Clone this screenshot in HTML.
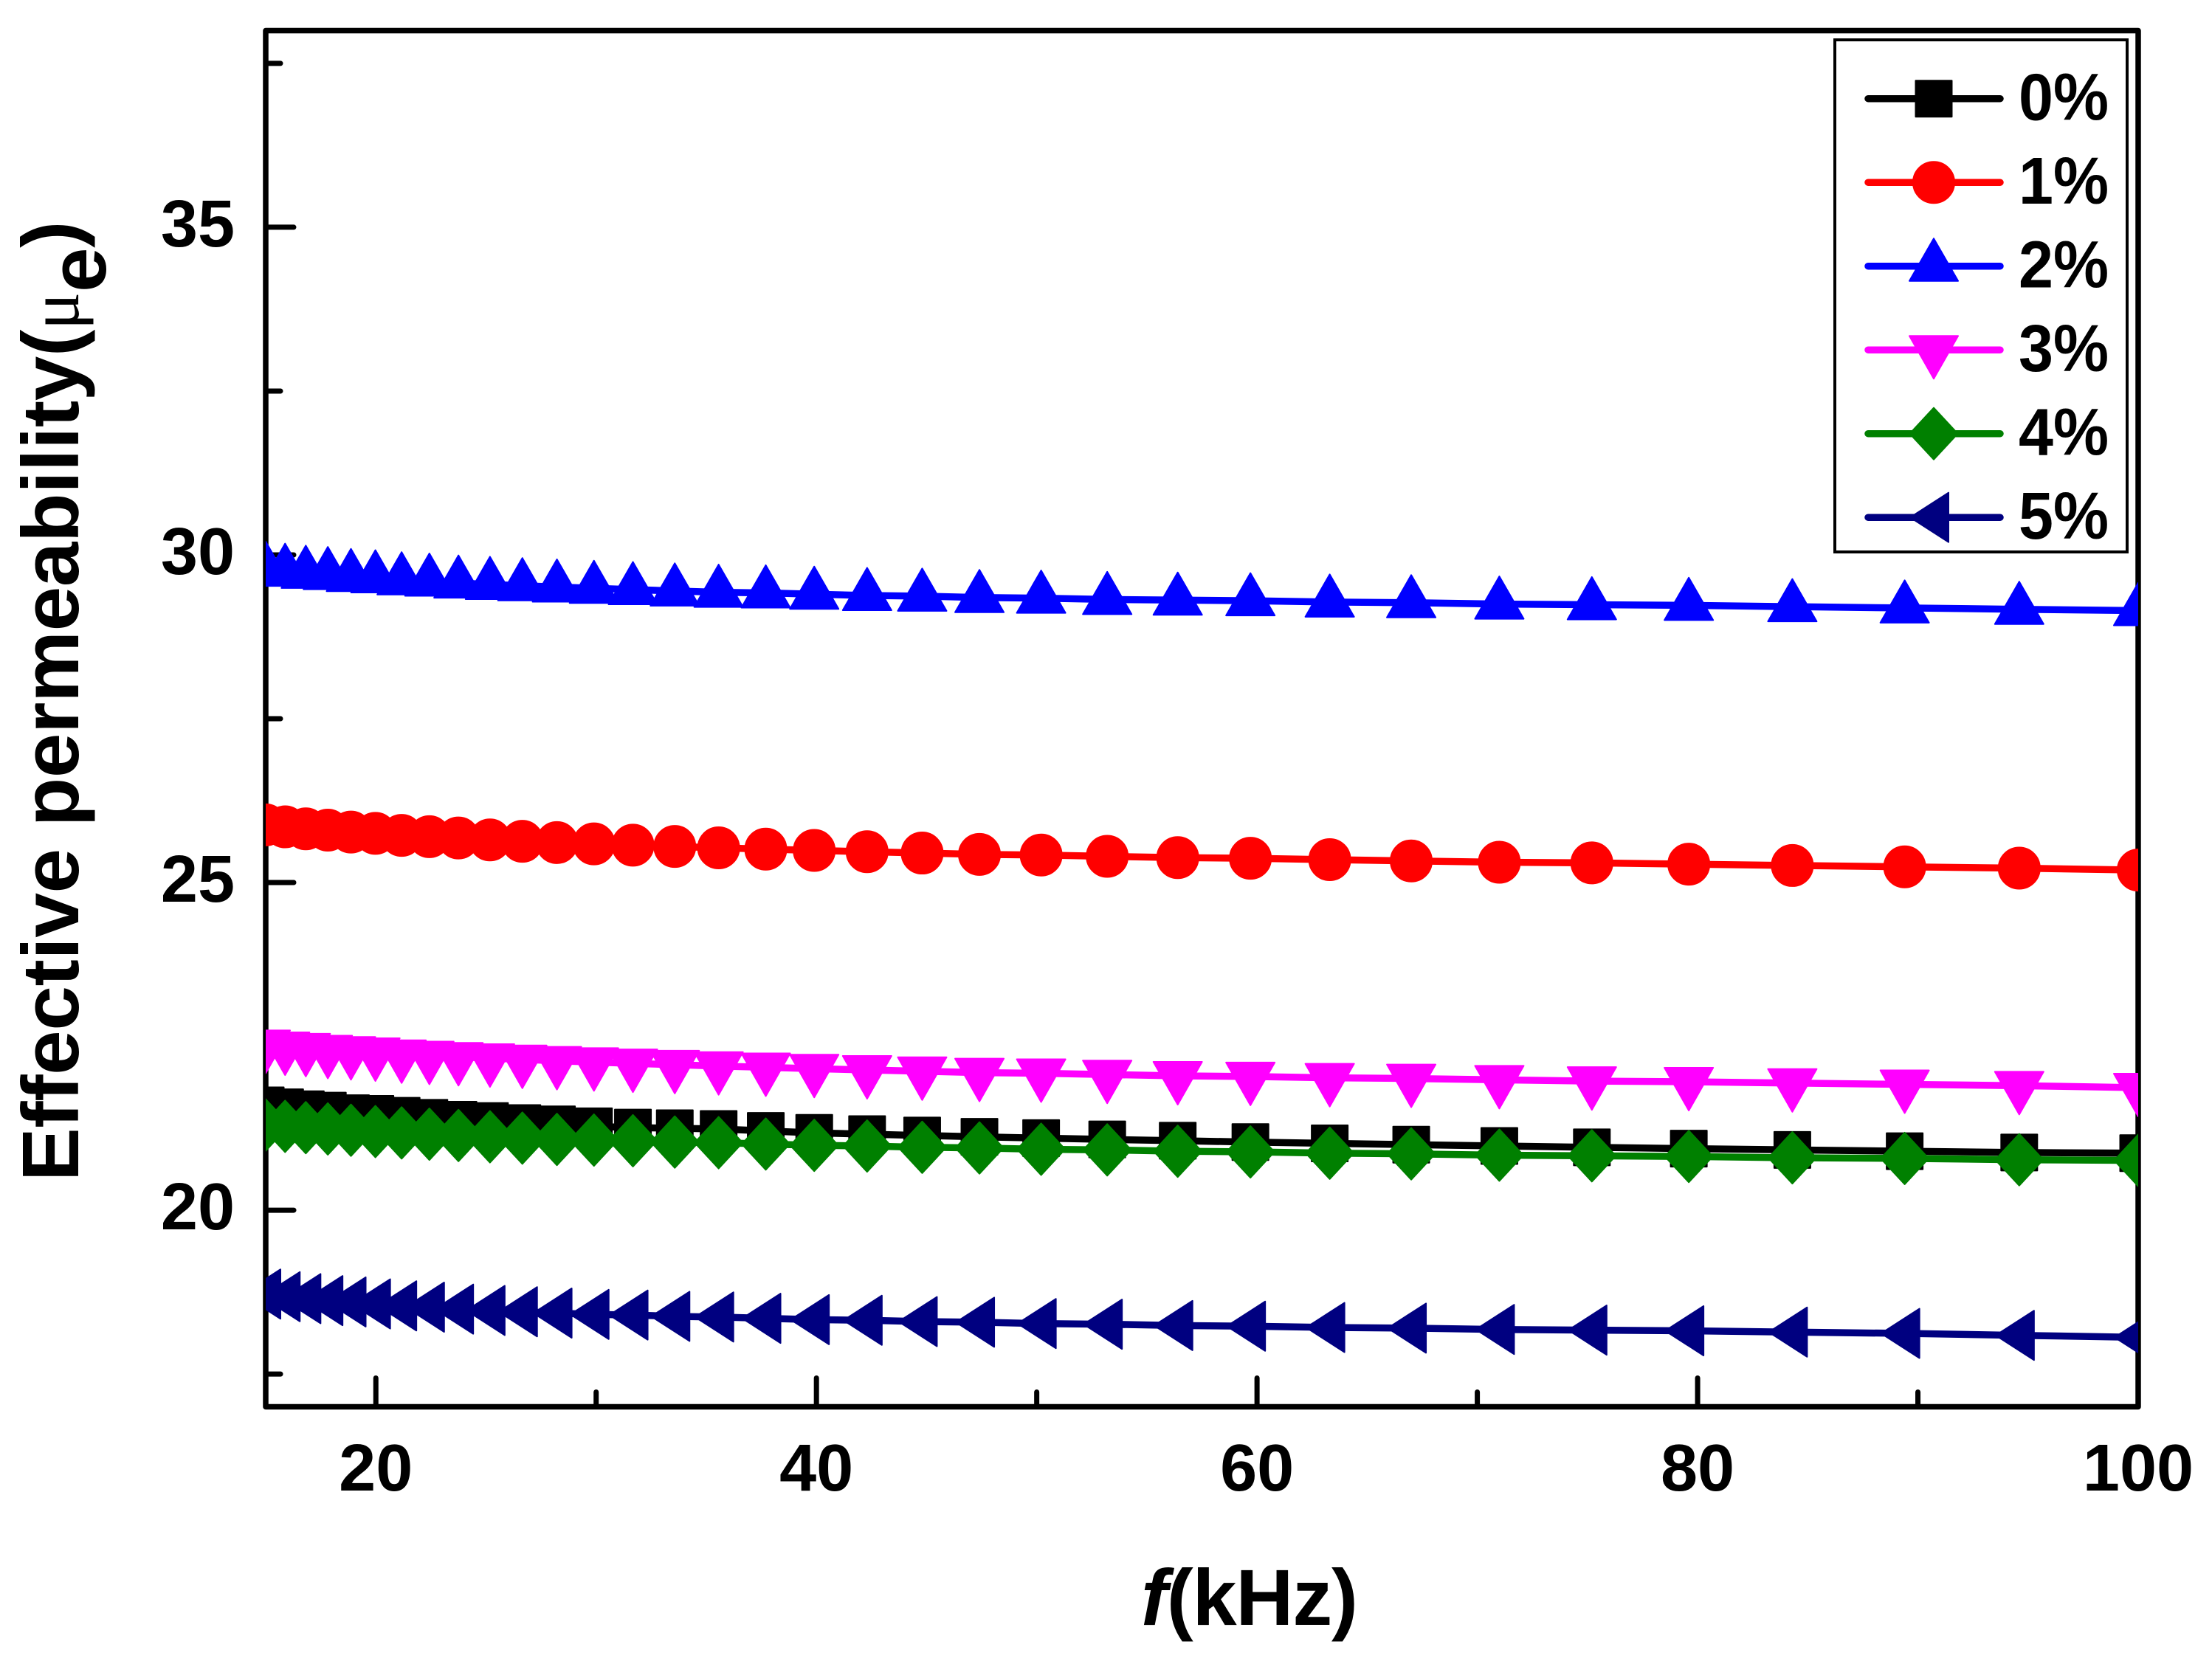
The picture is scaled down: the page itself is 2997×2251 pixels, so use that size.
<!DOCTYPE html>
<html lang="en">
<head>
<meta charset="utf-8">
<title>Effective permeability vs frequency</title>
<style>
html,body{margin:0;padding:0;background:#fff;}
svg{display:block;}
text{font-family:"Liberation Sans",sans-serif;font-weight:bold;fill:#000;}
</style>
</head>
<body>
<svg id="chart" width="2997" height="2251" viewBox="0 0 2997 2251" xmlns="http://www.w3.org/2000/svg">
  <defs><clipPath id="plot-clip"><rect x="360" y="41" width="2537" height="1866"/></clipPath></defs>
  <g id="axes"></g>
  <g id="series" clip-path="url(#plot-clip)"></g>
  <text transform="translate(106,1601) rotate(-90)" font-size="109" letter-spacing="-0.4" xml:space="preserve">Effective permeability(<tspan font-size="96" style="font-family:'Liberation Serif',serif;font-weight:normal">μ</tspan><tspan dy="37">e</tspan><tspan dy="-37">)</tspan></text>
  <text x="1546" y="2202" font-size="108" letter-spacing="-1.2"><tspan font-style="italic">f</tspan>(kHz)</text>
  <g id="legend">
    <rect x="2486" y="54" width="396" height="694" fill="#fff" stroke="#000" stroke-width="4"/>
  </g>
</svg>
<script>
const frequencies = [15,15.88,16.82,17.82,18.87,19.98,21.17,22.43,23.75,25.18,26.65,28.22,29.9,31.67,33.57,35.56,37.7,39.9,42.3,44.8,47.4,50.2,53.2,56.4,59.7,63.3,67,71,75.2,79.6,84.3,89.4,94.6,100];
const series0 = [21.60,21.57,21.54,21.52,21.48,21.47,21.44,21.41,21.38,21.36,21.33,21.31,21.28,21.26,21.25,21.24,21.21,21.18,21.16,21.14,21.12,21.10,21.08,21.06,21.04,21.02,21.00,20.98,20.96,20.94,20.92,20.90,20.88,20.87];
const series1 = [25.88,25.85,25.82,25.80,25.77,25.75,25.72,25.70,25.68,25.65,25.63,25.61,25.59,25.57,25.55,25.53,25.51,25.49,25.47,25.45,25.43,25.42,25.40,25.38,25.37,25.35,25.33,25.31,25.30,25.28,25.26,25.24,25.22,25.19];
const series2 = [29.78,29.75,29.72,29.70,29.67,29.65,29.62,29.60,29.57,29.55,29.53,29.51,29.49,29.47,29.45,29.43,29.42,29.40,29.38,29.37,29.35,29.34,29.32,29.31,29.30,29.28,29.27,29.25,29.24,29.23,29.21,29.19,29.17,29.15];
const series3 = [22.53,22.50,22.48,22.45,22.43,22.41,22.38,22.36,22.34,22.32,22.30,22.28,22.26,22.24,22.22,22.20,22.18,22.16,22.14,22.12,22.10,22.09,22.07,22.05,22.04,22.02,22.01,21.99,21.97,21.96,21.94,21.92,21.90,21.87];
const series4 = [21.30,21.28,21.26,21.24,21.22,21.20,21.18,21.16,21.14,21.12,21.10,21.08,21.07,21.06,21.04,21.03,21.01,20.99,20.98,20.96,20.95,20.93,20.92,20.90,20.89,20.87,20.86,20.84,20.83,20.82,20.80,20.79,20.77,20.76];
const series5 = [18.72,18.68,18.65,18.62,18.60,18.57,18.54,18.52,18.49,18.47,18.45,18.43,18.41,18.40,18.38,18.37,18.35,18.33,18.32,18.30,18.29,18.27,18.26,18.24,18.23,18.21,18.20,18.18,18.17,18.16,18.14,18.12,18.09,18.06];
const seriesLabels = ["0%","1%","2%","3%","4%","5%"];
const xMajorTicks = [20,40,60,80,100];
const xMinorTicks = [30,50,70,90];
const yMajorTicks = [20,25,30,35];
const yMinorTicks = [17.5,22.5,27.5,32.5,37.5];

const NS = "http://www.w3.org/2000/svg";
const xMin = 15, xMax = 100, yMin = 17, yMax = 38;
const left = 360, right = 2897, top_ = 41.5, bottom = 1906.5;
function xScale(v){ return left + (v - xMin) * (right - left) / (xMax - xMin); }
function yScale(v){ return bottom - (v - yMin) * (bottom - top_) / (yMax - yMin); }
function make(tag, attrs, parent){
  const el = document.createElementNS(NS, tag);
  for (const k in attrs) el.setAttribute(k, attrs[k]);
  parent.appendChild(el);
  return el;
}
const axes = document.getElementById("axes");
const seriesGroup = document.getElementById("series");
const legend = document.getElementById("legend");

const frame = make("rect", {x:left, y:top_, width:right-left, height:bottom-top_, fill:"none", stroke:"#000", "stroke-width":7.5, "stroke-linejoin":"round"}, axes);



function xTick(v, len, major){
  const t = make("line", {x1:xScale(v), x2:xScale(v), y1:bottom, y2:bottom-len, stroke:"#000", "stroke-width":7, "stroke-linecap":"round"}, axes);
  
  
}
function yTick(v, len, major){
  const t = make("line", {x1:left, x2:left+len, y1:yScale(v), y2:yScale(v), stroke:"#000", "stroke-width":7, "stroke-linecap":"round"}, axes);
  
  
}
xMajorTicks.forEach(function(v){
  xTick(v, 39, true);
  const l = make("text", {x:xScale(v), y:2020, "font-size":90, "text-anchor":"middle"}, axes);
  l.textContent = String(v);
  
  
});
xMinorTicks.forEach(function(v){ xTick(v, 20, false); });
yMajorTicks.forEach(function(v){
  yTick(v, 38, true);
  const l = make("text", {x:318, y:yScale(v)+26, "font-size":90, "text-anchor":"end"}, axes);
  l.textContent = String(v);
  
  
});
yMinorTicks.forEach(function(v){ yTick(v, 20, false); });

function marker(kind, cx, cy, color, parent){
  let m;
  const base = {fill:color, stroke:color, "stroke-width":2, "stroke-linejoin":"round"};
  if (kind === "square") {
    m = make("rect", Object.assign({x:cx-24.5, y:cy-24.5, width:49, height:49}, base), parent);
  } else if (kind === "circle") {
    m = make("circle", Object.assign({cx:cx, cy:cy, r:28}, base), parent);
  } else {
    let pts;
    if (kind === "up") pts = [[0,-37.5],[33,20],[-33,20]];
    if (kind === "down") pts = [[0,39],[33,-19],[-33,-19]];
    if (kind === "diamond") pts = [[0,-35],[32.5,0],[0,35],[-32.5,0]];
    if (kind === "left") pts = [[-32,0],[20,-33.5],[20,33.5]];
    m = make("polygon", Object.assign({points:pts.map(function(p){return (cx+p[0])+","+(cy+p[1]);}).join(" ")}, base), parent);
  }
  return m;
}

const allSeries = [series0, series1, series2, series3, series4, series5];
const colors = ["#000000","#ff0000","#0000ff","#ff00ff","#008000","#000080"];
const kinds = ["square","circle","up","down","diamond","left"];

allSeries.forEach(function(vals, i){
  const g = make("g", {}, seriesGroup);
  
  
  const pts = vals.map(function(v, j){ return xScale(frequencies[j]) + "," + yScale(v); }).join(" ");
  const line = make("polyline", {points:pts, fill:"none", stroke:colors[i], "stroke-width":9.5, "stroke-linejoin":"round"}, g);
  
  
  vals.forEach(function(v, j){
    const m = marker(kinds[i], xScale(frequencies[j]), yScale(v), colors[i], g);
    
    
  });

  const ly = 133.7 + 113.5 * i;
  const entry = make("g", {}, legend);
  
  
  const ll = make("line", {x1:2531, x2:2710, y1:ly, y2:ly, stroke:colors[i], "stroke-width":9.5, "stroke-linecap":"round"}, entry);
  
  
  const lm = marker(kinds[i], 2620, ly, colors[i], entry);
  
  
  const lt = make("text", {x:2735, y:ly+29, "font-size":90, textLength:122, lengthAdjust:"spacingAndGlyphs"}, entry);
  lt.textContent = seriesLabels[i];
  
  
});
</script>
</body>
</html>
